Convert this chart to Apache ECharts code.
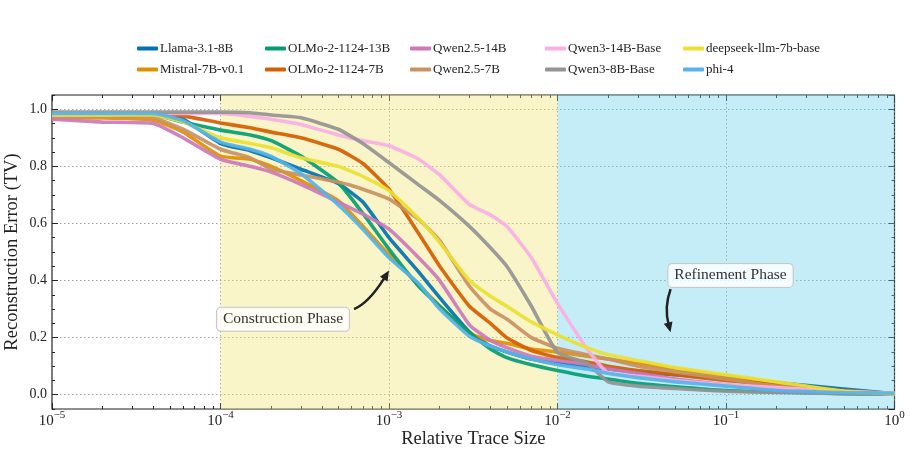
<!DOCTYPE html>
<html>
<head>
<meta charset="utf-8">
<script src="https://cdn.jsdelivr.net/npm/echarts@6/dist/echarts.min.js"></script>
<style>
html, body {margin: 0; padding: 0; background: #fff;}
#chart {width: 911px; height: 452px;}
</style>
</head>
<body>
<div id="chart"></div>
<script>
// relative trace size (x) and reconstruction error (TV) per model
var traceSize = [1e-5, 2e-5, 4e-5, 6e-5, 1e-4, 1.5e-4, 2e-4, 3e-4, 5e-4, 7e-4, 1e-3, 1.5e-3, 2e-3,
                 3e-3, 4e-3, 5e-3, 7e-3, 1e-2, 1.5e-2, 2e-2, 3e-2, 5e-2, 0.1, 0.2, 0.5, 1];

var llama    = [0.98, 0.98, 0.98, 0.965, 0.88, 0.855, 0.83, 0.79, 0.74, 0.675, 0.55, 0.43, 0.34, 0.22, 0.17, 0.15, 0.125, 0.11, 0.10, 0.09, 0.08, 0.07, 0.058, 0.042, 0.02, 0.003];
var mistral  = [0.97, 0.97, 0.962, 0.92, 0.836, 0.825, 0.80, 0.75, 0.68, 0.59, 0.49, 0.385, 0.31, 0.215, 0.19, 0.18, 0.16, 0.15, 0.135, 0.125, 0.11, 0.09, 0.065, 0.04, 0.012, 0.003];
var olmo13   = [0.98, 0.98, 0.98, 0.955, 0.927, 0.91, 0.89, 0.836, 0.743, 0.635, 0.51, 0.38, 0.31, 0.218, 0.16, 0.13, 0.105, 0.085, 0.065, 0.055, 0.04, 0.028, 0.015, 0.01, 0.004, 0.002];
var olmo7    = [0.98, 0.98, 0.98, 0.977, 0.952, 0.935, 0.92, 0.90, 0.86, 0.81, 0.72, 0.565, 0.45, 0.31, 0.25, 0.20, 0.155, 0.13, 0.115, 0.10, 0.085, 0.07, 0.05, 0.035, 0.015, 0.003];
var qwen14   = [0.965, 0.955, 0.95, 0.90, 0.825, 0.80, 0.78, 0.737, 0.675, 0.633, 0.58, 0.48, 0.40, 0.245, 0.19, 0.165, 0.135, 0.12, 0.105, 0.09, 0.075, 0.055, 0.035, 0.02, 0.007, 0.002];
var qwen7    = [0.975, 0.975, 0.97, 0.93, 0.86, 0.83, 0.79, 0.77, 0.745, 0.72, 0.685, 0.614, 0.54, 0.38, 0.30, 0.265, 0.20, 0.163, 0.14, 0.125, 0.10, 0.08, 0.055, 0.03, 0.012, 0.003];
var qwen3_14 = [0.98, 0.98, 0.985, 0.985, 0.985, 0.975, 0.965, 0.947, 0.91, 0.89, 0.872, 0.825, 0.77, 0.667, 0.63, 0.59, 0.48, 0.32, 0.16, 0.075, 0.065, 0.05, 0.035, 0.025, 0.012, 0.005];
var qwen3_8  = [0.99, 0.99, 0.99, 0.99, 0.99, 0.988, 0.98, 0.97, 0.93, 0.88, 0.813, 0.735, 0.68, 0.59, 0.515, 0.45, 0.31, 0.148, 0.11, 0.045, 0.03, 0.022, 0.012, 0.008, 0.004, 0.002];
var deepseek = [0.98, 0.98, 0.98, 0.955, 0.90, 0.88, 0.865, 0.83, 0.80, 0.765, 0.715, 0.617, 0.533, 0.40, 0.345, 0.31, 0.255, 0.21, 0.165, 0.14, 0.12, 0.095, 0.07, 0.045, 0.012, 0.003];
var phi4     = [0.985, 0.985, 0.985, 0.96, 0.885, 0.86, 0.835, 0.775, 0.665, 0.58, 0.48, 0.39, 0.30, 0.205, 0.17, 0.15, 0.125, 0.105, 0.09, 0.075, 0.06, 0.045, 0.03, 0.015, 0.008, 0.005];

var names  = ['Llama-3.1-8B', 'Mistral-7B-v0.1', 'OLMo-2-1124-13B', 'OLMo-2-1124-7B', 'Qwen2.5-14B',
              'Qwen2.5-7B', 'Qwen3-14B-Base', 'Qwen3-8B-Base', 'deepseek-llm-7b-base', 'phi-4'];
var values = [llama, mistral, olmo13, olmo7, qwen14, qwen7, qwen3_14, qwen3_8, deepseek, phi4];
var colors = ['#0173B2', '#DE8F05', '#029E73', '#D55E00', '#CC78BC',
              '#CA9161', '#FBAFE4', '#949494', '#ECE133', '#56B4E9'];

var yTicks = [0, 0.2, 0.4, 0.6, 0.8, 1.0];

var FONT = 'Liberation Serif';

var series = names.map(function (n, i) {
    return {
        name: n,
        type: 'line',
        data: traceSize.map(function (x, j) { return [x, values[i][j]]; }),
        symbol: 'none',
        smooth: 0.15,
        lineStyle: {width: 3.6, color: colors[i], opacity: 0.92},
        itemStyle: {color: colors[i]},
        z: 3 + i
    };
});
// shaded phases
series.unshift({
    type: 'line', data: [], silent: true, z: 1,
    markArea: {
        silent: true,
        data: [
            [{xAxis: 1e-4, itemStyle: {color: 'rgba(240,230,117,0.4)'}}, {xAxis: 1e-2}],
            [{xAxis: 1e-2, itemStyle: {color: 'rgba(110,210,235,0.4)'}}, {xAxis: 1}]
        ]
    }
});

// legend laid out like matplotlib ncol=5
var colX = [137, 265, 410, 545, 683];
var rowY = [42, 63];
var legends = names.map(function (n, i) {
    return {
        data: [n],
        left: colX[Math.floor(i / 2)],
        top: rowY[i % 2],
        padding: 0,
        icon: 'roundRect',
        itemWidth: 21, itemHeight: 4,
        textStyle: {fontFamily: FONT, fontSize: 13, color: '#222', padding: [0, 0, 0, -3]},
        selectedMode: false
    };
});

function supLabel(v) {
    var e = Math.round(Math.log10(v));
    return '{b|10}{s|' + (e < 0 ? '\u2212' + (-e) : e) + '}';
}

var gridLine = {show: true, lineStyle: {color: '#888', type: [1.5, 2.5], width: 0.8}};
var tickStyle = {color: '#222', width: 1};
var yMin = -0.05, yMax = 1.05;

var option = {
    animation: false,
    textStyle: {fontFamily: FONT},
    grid: {left: 52, right: 16.5, top: 95, bottom: 43, containLabel: false, outerBoundsMode: 'none',
           show: true, borderColor: '#222', borderWidth: 1.2, backgroundColor: 'transparent'},
    legend: legends,
    xAxis: [{
        type: 'log', logBase: 10, min: 1e-5, max: 1,
        name: 'Relative Trace Size', nameLocation: 'middle', nameGap: 21, nameMoveOverlap: false,
        nameTextStyle: {fontFamily: FONT, fontSize: 18.5, color: '#222', verticalAlign: 'top'},
        axisLine: {show: false, onZero: false},
        axisTick: {inside: true, length: 6, lineStyle: tickStyle},
        minorTick: {show: true, splitNumber: 9, length: 3, lineStyle: tickStyle},
        axisLabel: {
            formatter: supLabel, margin: 1,
            rich: {
                b: {fontFamily: FONT, fontSize: 15, color: '#222', verticalAlign: 'bottom'},
                s: {fontFamily: FONT, fontSize: 11, color: '#222', verticalAlign: 'bottom', padding: [0, 0, 8, 0]}
            }
        },
        splitLine: gridLine
    }, {
        type: 'log', logBase: 10, min: 1e-5, max: 1, position: 'top',
        axisLine: {show: false, onZero: false}, axisLabel: {show: false}, splitLine: {show: false},
        axisTick: {inside: true, length: 6, lineStyle: tickStyle},
        minorTick: {show: true, splitNumber: 9, length: 3, lineStyle: tickStyle}
    }],
    yAxis: [{
        type: 'value', min: yMin, max: yMax, splitNumber: 5,
        name: 'Reconstruction Error (TV)', nameLocation: 'middle', nameGap: 30, nameMoveOverlap: false,
        nameTextStyle: {fontFamily: FONT, fontSize: 18.5, color: '#222'},
        axisLine: {show: false, onZero: false},
        axisTick: {inside: true, length: 6, lineStyle: tickStyle},
        axisLabel: {
            fontFamily: FONT, fontSize: 14, color: '#222', margin: 5,
            showMinLabel: false, showMaxLabel: false,
            formatter: function (v) { return yTicks.indexOf(+v.toFixed(2)) >= 0 ? v.toFixed(1) : ''; }
        },
        splitLine: gridLine
    }, {
        type: 'value', min: yMin, max: yMax, splitNumber: 5, position: 'right',
        axisLine: {show: false, onZero: false}, axisLabel: {show: false}, splitLine: {show: false},
        axisTick: {inside: true, length: 6, lineStyle: tickStyle}
    }, {
        type: 'value', min: yMin, max: yMax, interval: 0.05, position: 'left',
        axisLine: {show: false, onZero: false}, axisLabel: {show: false}, splitLine: {show: false},
        axisTick: {inside: true, length: 3, lineStyle: tickStyle}
    }, {
        type: 'value', min: yMin, max: yMax, interval: 0.05, position: 'right',
        axisLine: {show: false, onZero: false}, axisLabel: {show: false}, splitLine: {show: false},
        axisTick: {inside: true, length: 3, lineStyle: tickStyle}
    }],
    series: series
};

var chart = echarts.init(document.getElementById('chart'));
chart.setOption(option);

// phase annotations (data coordinates)
var notes = [
    {text: 'Construction Phase', at: [2.35e-4, 0.264],
     from: [6.2e-4, 0.30], ctrl: [7.6e-4, 0.322], to: [1e-3, 0.435]},
    {text: 'Refinement Phase', at: [0.1064, 0.418],
     from: [0.0469, 0.37], ctrl: [0.0429, 0.307], to: [0.0469, 0.219]}
];

var graphics = [];
notes.forEach(function (a) {
    var c = chart.convertToPixel({gridIndex: 0}, a.at);
    var p0 = chart.convertToPixel({gridIndex: 0}, a.from);
    var cp = chart.convertToPixel({gridIndex: 0}, a.ctrl);
    var p2 = chart.convertToPixel({gridIndex: 0}, a.to);
    var dx = p2[0] - cp[0], dy = p2[1] - cp[1];
    var len = Math.sqrt(dx * dx + dy * dy);
    var ux = dx / len, uy = dy / len;
    var head = 10, half = 4.5;
    var bx = p2[0] - ux * head, by = p2[1] - uy * head;
    graphics.push({
        type: 'bezierCurve', z: 100,
        shape: {x1: p0[0], y1: p0[1], cpx1: cp[0], cpy1: cp[1], x2: bx + ux * 2, y2: by + uy * 2},
        style: {stroke: '#222', lineWidth: 2.5, fill: null}
    });
    graphics.push({
        type: 'polygon', z: 100,
        shape: {points: [[p2[0], p2[1]], [bx - uy * half, by + ux * half], [bx + uy * half, by - ux * half]]},
        style: {fill: '#222'}
    });
    graphics.push({
        type: 'text', z: 100, x: c[0], y: c[1],
        style: {
            text: a.text, font: '15.5px "' + FONT + '"', fill: '#333',
            align: 'center', verticalAlign: 'middle',
            backgroundColor: 'rgba(255,255,255,0.8)', borderColor: '#c8c8c8', borderWidth: 1,
            borderRadius: 4, padding: [4, 6, 3, 6]
        }
    });
});
chart.setOption({graphic: graphics});
</script>
</body>
</html>
